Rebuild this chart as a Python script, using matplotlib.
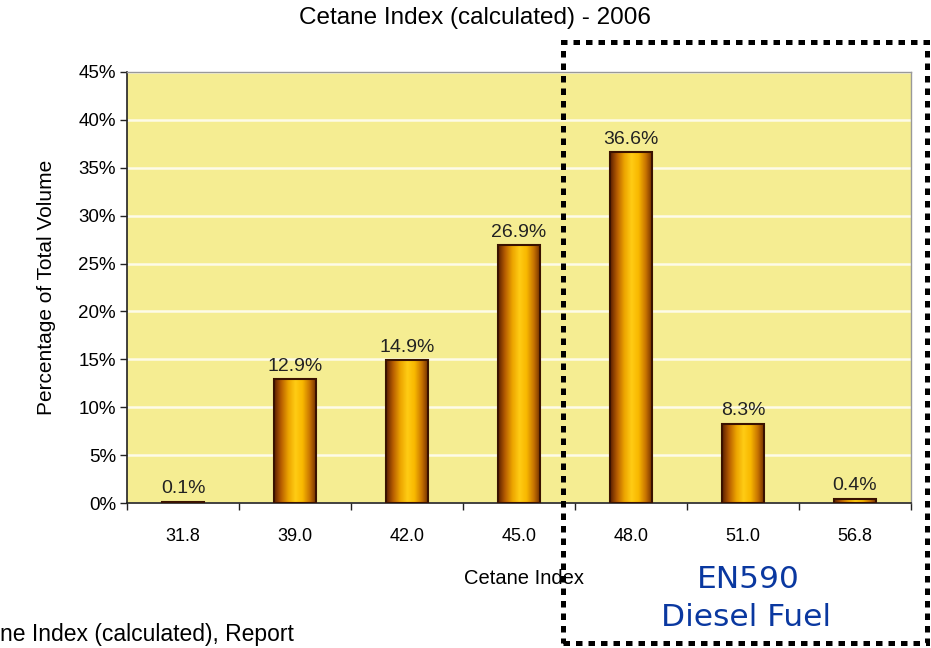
import numpy as np
import matplotlib
matplotlib.use("Agg")
import matplotlib.pyplot as plt
from matplotlib.colors import LinearSegmentedColormap
from matplotlib.patches import Rectangle

plt.rcParams['font.family'] = ['Liberation Sans', 'DejaVu Sans']

categories = ['31.8', '39.0', '42.0', '45.0', '48.0', '51.0', '56.8']
values = [0.1, 12.9, 14.9, 26.9, 36.6, 8.3, 0.4]
labels = ['0.1%', '12.9%', '14.9%', '26.9%', '36.6%', '8.3%', '0.4%']
yticks = [0, 5, 10, 15, 20, 25, 30, 35, 40, 45]

fig = plt.figure(figsize=(9.31, 6.48), dpi=100)
ax = fig.add_axes([127/931, 1-503/648, (911-127)/931, (503-72)/648])
ax.set_facecolor('#f5ed92')

x = np.arange(len(categories))
bars = ax.bar(x, values, width=0.38, color='none', edgecolor='#3a1200', linewidth=1.5, zorder=3)

# gradient fill inside each bar
cmap = LinearSegmentedColormap.from_list('gold', ['#5a1e00', '#b85e00', '#eca400', '#ffcc14', '#f8b800', '#c87400', '#6a2800'])
grad = np.linspace(0, 1, 256).reshape(1, -1)
for b in bars:
    x0, y0 = b.get_x(), b.get_y()
    w, h = b.get_width(), b.get_height()
    im = ax.imshow(grad, cmap=cmap, aspect='auto', extent=(x0, x0 + w, y0, y0 + h), zorder=2)
    im.set_clip_path(b)

for xi, v, lab in zip(x, values, labels):
    ax.text(xi, v + 0.5, lab, ha='center', va='bottom', fontsize=14, color='#222222', zorder=4)

ax.set_xlim(-0.5, len(categories) - 0.5)
ax.set_ylim(0, 45)
ax.set_yticks(yticks)
ax.set_yticklabels([f'{t}%' for t in yticks], fontsize=13.5)
ax.yaxis.grid(True, color='#fdfbe8', linewidth=1.8)
ax.set_axisbelow(True)

ax.set_xticks(x)
ax.set_xticklabels(categories, fontsize=13)
ax.tick_params(axis='x', which='major', length=0, pad=18)
ax.set_xticks(np.arange(-0.5, len(categories), 1), minor=True)
ax.tick_params(axis='x', which='minor', length=5, width=1, color='#222222')
ax.tick_params(axis='y', length=5, width=1, color='#222222', pad=3)

for s in ['top', 'right']:
    ax.spines[s].set_color('#999999')
    ax.spines[s].set_linewidth(1)
for s in ['left', 'bottom']:
    ax.spines[s].set_color('#222222')
    ax.spines[s].set_linewidth(1.2)

ax.set_ylabel('Percentage of Total Volume', fontsize=15)
ax.yaxis.set_label_coords(-0.09, 0.5)
fig.text(524/931, 1-579/648, 'Cetane Index', ha='center', va='center', fontsize=14.5)
fig.text(475/931, 1-18/648, 'Cetane Index (calculated) - 2006', ha='center', va='center', fontsize=17.5)
fig.text(0, 1-635/648, 'ne Index (calculated), Report', ha='left', va='center', fontsize=16.5)

# EN590 box
box = Rectangle((563/931, 1-643/648), (927-563)/931, (643-42)/648, transform=fig.transFigure,
                fill=False, edgecolor='black', linewidth=3.6, linestyle=(0, (1.3, 1.2)), zorder=10)
fig.patches.append(box)
fig.text(748/931, 1-580/648, 'EN590', ha='center', va='center', fontsize=22.5,
         color='#0a38a0', family='DejaVu Sans')
fig.text(746/931, 1-617/648, 'Diesel Fuel', ha='center', va='center', fontsize=22.5,
         color='#0a38a0', family='DejaVu Sans')

fig.savefig('out.png', dpi=100)
